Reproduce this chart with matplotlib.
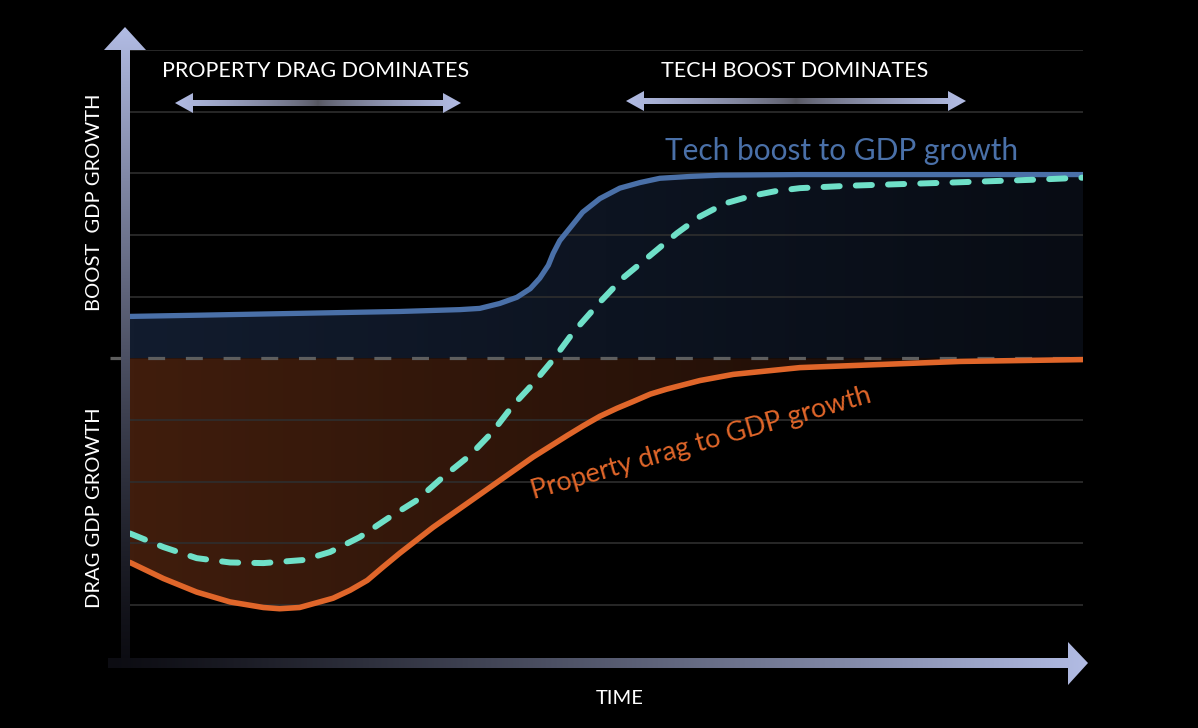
import numpy as np
import matplotlib
matplotlib.use('Agg')
import matplotlib.pyplot as plt
from matplotlib.patches import Polygon

# --- data (time 0..100, growth effect in grid units) ---
tech_t = [0, 7.3, 17.8, 28.3, 34.6, 36.7, 38.8, 40.6, 42.0, 43.0, 43.9, 44.4, 45.1,
          46.2, 47.5, 49.3, 51.4, 53.5, 55.6, 58.8, 61.9, 70.3, 100]
tech_v = [0.68, 0.70, 0.73, 0.76, 0.79, 0.81, 0.89, 0.99, 1.13, 1.30, 1.51, 1.70, 1.91,
          2.12, 2.37, 2.59, 2.76, 2.85, 2.92, 2.95, 2.97, 2.98, 2.98]

net_t = [0, 3.5, 7.0, 10.5, 14.0, 18.2, 21.0, 24.1, 27.1, 30.1, 32.8, 35.7, 38.0,
         40.2, 42.3, 44.4, 46.5, 49.3, 51.7, 54.6, 57.4, 59.8, 62.4, 65.1, 67.7,
         70.3, 75.6, 86.0, 95.5, 100]
net_v = [-2.84, -3.06, -3.24, -3.31, -3.32, -3.27, -3.14, -2.90, -2.59, -2.30, -1.93,
         -1.57, -1.20, -0.76, -0.41, -0.02, 0.42, 0.91, 1.30, 1.67, 2.03, 2.30, 2.51,
         2.63, 2.71, 2.76, 2.80, 2.85, 2.90, 2.93]

prop_t = [0, 3.5, 7.0, 10.5, 14.0, 15.7, 17.8, 21.3, 23.1, 24.9, 26.5, 28.3, 31.8,
          35.4, 38.8, 42.3, 45.9, 47.6, 49.3, 51.1, 52.8, 54.6, 56.3, 59.8, 63.3,
          70.3, 78.7, 87.1, 100]
prop_v = [-3.31, -3.57, -3.79, -3.95, -4.04, -4.06, -4.04, -3.89, -3.76, -3.60, -3.39,
          -3.16, -2.74, -2.35, -1.98, -1.60, -1.25, -1.09, -0.94, -0.81, -0.70, -0.58,
          -0.50, -0.36, -0.26, -0.15, -0.10, -0.05, -0.02]

grid_levels = [5, 4, 3, 2, 1, -1, -2, -3, -4]

BLUE = '#4a70a8'
TEAL = '#6fe0c8'
ORANGE = '#e0662a'
LAV = np.array([178, 188, 228]) / 255

fig = plt.figure(figsize=(11.98, 7.28), dpi=100, facecolor='black')

# main plotting area
ax = fig.add_axes([130 / 1198, 1 - 663 / 728, 953 / 1198, 613 / 728])
ax.set_facecolor('black')
ax.axis('off')

for g in grid_levels:
    ax.axhline(g, color='#2e2e2e', lw=1.2, zorder=1)


def gradient_fill(x, y, c_left, c_right):
    verts = list(zip(x, y)) + [(x[-1], 0), (x[0], 0)]
    poly = Polygon(verts, closed=True, facecolor='none', edgecolor='none',
                   transform=ax.transData)
    ax.add_patch(poly)
    s = np.linspace(0, 1, 256)[None, :, None]
    img = (1 - s) * np.array(c_left) + s * np.array(c_right)
    im = ax.imshow(img, extent=[0, 100, -5, 5], aspect='auto', zorder=0.5,
                   origin='lower')
    im.set_clip_path(poly)


gradient_fill(tech_t, tech_v, [18/255, 28/255, 46/255], [8/255, 12/255, 20/255])
gradient_fill(prop_t, prop_v, [64/255, 29/255, 13/255], [22/255, 10/255, 5/255])
ax.set_xlim(0, 100)
ax.set_ylim(-4.94, 5)

ax.plot([-2.1, 100], [0, 0], color='#5e5e5e', lw=2.3, dashes=(5.3, 6.5),
        clip_on=False, zorder=2)

ax.plot(tech_t, tech_v, color=BLUE, lw=3.8, solid_capstyle='round',
        solid_joinstyle='round', zorder=3)
ax.plot(prop_t, prop_v, color=ORANGE, lw=4.0, solid_capstyle='round',
        solid_joinstyle='round', zorder=3)
ax.plot(net_t, net_v, color=TEAL, lw=4.3, dashes=(2.7, 2.7),
        dash_capstyle='round', dash_joinstyle='round', zorder=4)

# overlay in pixel coordinates for arrows and labels
ov = fig.add_axes([0, 0, 1, 1], facecolor='none')
ov.axis('off')


def grad_shape(verts, img, extent):
    poly = Polygon(verts, closed=True, facecolor='none', edgecolor='none')
    ov.add_patch(poly)
    im = ov.imshow(img, extent=extent, aspect='auto', interpolation='bilinear')
    im.set_clip_path(poly)


dark = np.array([12, 12, 18]) / 255
n = 256
s = np.linspace(0, 1, n)

# y axis arrow (light at top)
col = (s[:, None] ** 1.3) * LAV + (1 - s[:, None] ** 1.3) * dark
grad_shape([(121, 668), (121, 50), (104, 50), (125, 27), (146, 50), (130, 50), (130, 668)],
           col[::-1][:, None, :], [100, 150, 668, 26])

# x axis arrow (light at right)
col = (s[:, None] ** 1.2) * LAV + (1 - s[:, None] ** 1.2) * dark
grad_shape([(108, 658), (1068, 658), (1068, 642), (1088, 663), (1068, 685), (1068, 668), (108, 668)],
           col[None, :, :], [106, 1090, 686, 640])

# double arrows
mid = np.array([85, 85, 95]) / 255
w = np.abs(2 * s - 1) ** 0.7
col = w[:, None] * LAV + (1 - w[:, None]) * mid
for x0, x1, yc in [(175, 461, 103), (626, 966, 101)]:
    verts = [(x0, yc), (x0 + 18, yc - 10), (x0 + 18, yc - 3), (x1 - 18, yc - 3),
             (x1 - 18, yc - 10), (x1, yc), (x1 - 18, yc + 10), (x1 - 18, yc + 3),
             (x0 + 18, yc + 3), (x0 + 18, yc + 10)]
    grad_shape(verts, col[None, :, :], [x0, x1, yc + 11, yc - 11])

ov.set_xlim(0, 1198)
ov.set_ylim(728, 0)

font = 'Lato'
ov.text(316, 71, 'PROPERTY DRAG DOMINATES', color='white', fontsize=15.5,
        family=font, ha='center', va='center')
ov.text(795, 71, 'TECH BOOST DOMINATES', color='white', fontsize=15.5,
        family=font, ha='center', va='center')
ov.text(95, 202, 'BOOST  GDP GROWTH', color='white', fontsize=14.5, family=font,
        rotation=90, ha='center', va='center')
ov.text(95, 508, 'DRAG GDP GROWTH', color='white', fontsize=14.5, family=font,
        rotation=90, ha='center', va='center')
ov.text(620, 698, 'TIME', color='white', fontsize=14.5, family=font,
        ha='center', va='center')
ov.text(842, 160, 'Tech boost to GDP growth', color=BLUE, fontsize=21.5,
        family=font, ha='center', va='baseline')
ov.text(703, 451, 'Property drag to GDP growth', color=ORANGE, fontsize=19.5,
        family=font, ha='center', va='baseline', rotation=16,
        rotation_mode='anchor')

fig.savefig('out.png', dpi=100, facecolor='black')
